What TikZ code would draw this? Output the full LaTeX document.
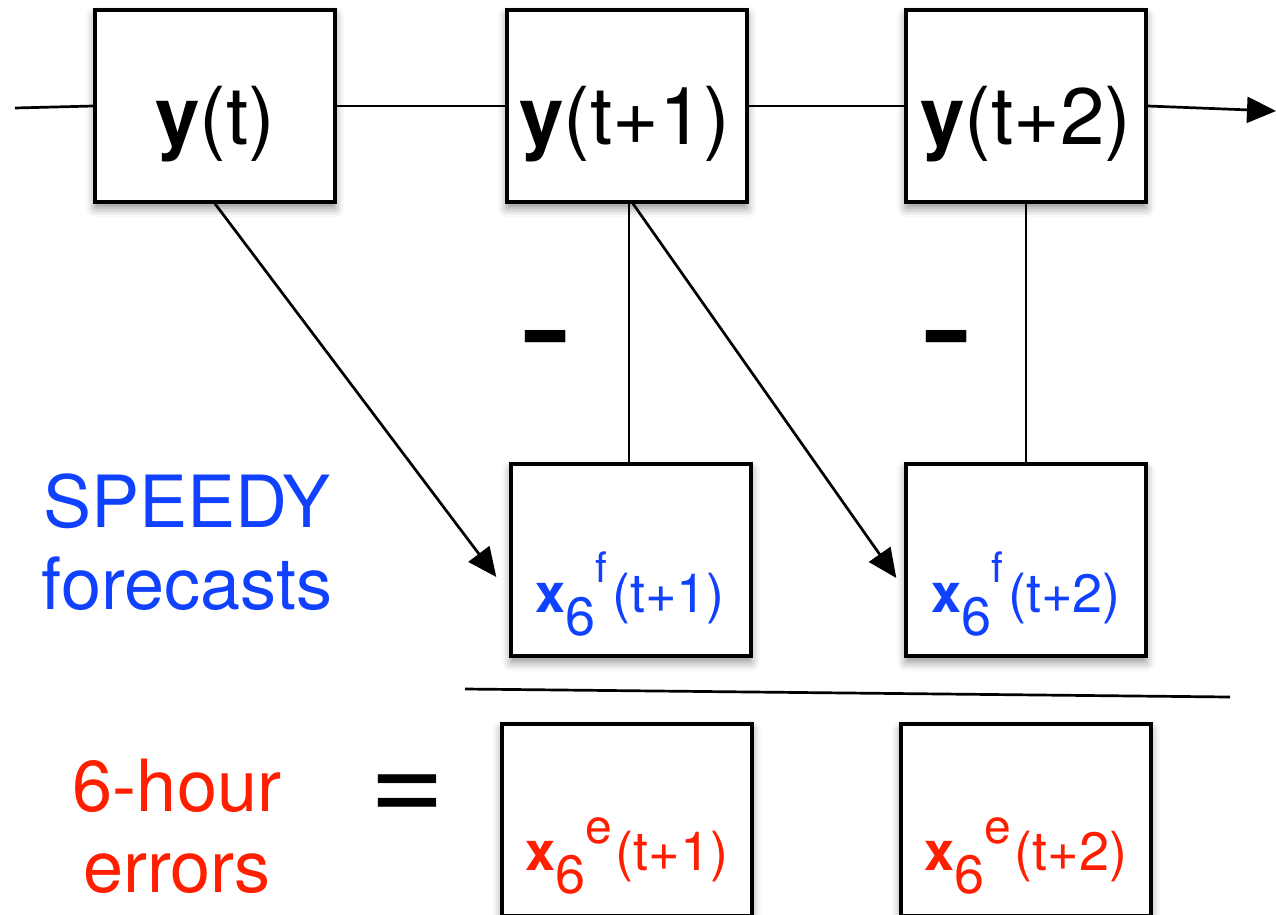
\documentclass[tikz,border=0pt]{standalone}
\usepackage{fontspec}
\setmainfont{TeX Gyre Heros}
\usetikzlibrary{arrows.meta,calc,shadows.blur}
\definecolor{fcblue}{RGB}{15,65,255}
\definecolor{errred}{RGB}{255,30,0}
\newcommand\fsz[1]{\fontsize{#1}{#1}\selectfont}
\begin{document}
\begin{tikzpicture}[x=1pt,y=-1pt,
  box/.style={draw, line width=3.4pt, fill=white, inner sep=0pt,
    minimum width=240pt, minimum height=192pt,
    blur shadow={shadow xshift=0pt, shadow yshift=-6pt,
      shadow blur radius=9pt, shadow opacity=45}},
  widebox/.style={box, minimum width=250pt},
  link/.style={line width=2.7pt},
  arr/.style={link, -{Triangle[length=29pt,width=26pt]}},
  big/.style={anchor=base, font=\fsz{80}},
  inbox/.style={anchor=base, font=\fsz{54}},
  side/.style={anchor=base, font=\fsz{72}},
]
\useasboundingbox (0,0) rectangle (1276,914);

% state boxes
\node[box] (yt)  at (215,106) {};
\node[box] (yt1) at (627,106) {};
\node[box] (yt2) at (1026,106) {};

% forecast boxes
\node[box] (f1) at (631,560) {};
\node[box] (f2) at (1026,560) {};

% error boxes
\node[widebox] (e1) at (627,820) {};
\node[widebox] (e2) at (1026,820) {};

% box labels
\node[big] (ytl)  at (215,144) {\textbf{y}(t)};
\node[big] (yt1l) at (625,144) {\textbf{y}(t+1)};
\node[big] (yt2l) at (1026,144) {\textbf{y}(t+2)};

\node[inbox, text=fcblue] (f1l) at (630,612)
  {\textbf{x}\raisebox{-23pt}{6}\raisebox{30pt}{\fsz{42}f}\kern5pt(t+1)};
\node[inbox, text=fcblue] (f2l) at (1026,612)
  {\textbf{x}\raisebox{-23pt}{6}\raisebox{30pt}{\fsz{42}f}\kern5pt(t+2)};

\node[inbox, text=errred] (e1l) at (627,870)
  {\textbf{x}\raisebox{-23pt}{6}\raisebox{27pt}{\fsz{48}e}\kern3pt(t+1)};
\node[inbox, text=errred] (e2l) at (1026,870)
  {\textbf{x}\raisebox{-23pt}{6}\raisebox{27pt}{\fsz{48}e}\kern3pt(t+2)};

% side captions
\node[side, text=fcblue] (sp) at (187,527) {SPEEDY};
\node[side, text=fcblue] (fc) at (187,609) {forecasts};
\node[side, text=errred] (hr) at (177,811) {6-hour};
\node[side, text=errred] (er) at (177,892) {errors};

% operators
\node[anchor=base, font=\fsz{170}, inner sep=0pt] (m1) at (546,383) {-};
\node[anchor=base, font=\fsz{170}, inner sep=0pt] (m2) at (947,383) {-};
\node[anchor=base, font=\fsz{130}, inner sep=0pt] (eq) at (407,823) {=};

% time chain
\coordinate (in)  at (15,108);
\coordinate (out) at (1276,111);
\draw[link] (in) -- (yt.west);
\draw[link] (yt.east) -- (yt1.west);
\draw[link] (yt1.east) -- (yt2.west);
\draw[arr] (yt2.east) -- (out);

% forecast arrows
\draw[arr] (yt.south) -- ($(f1.west)+(-13,17)$);
\draw[arr] ($(yt1.south)+(6,0)$) -- ($(f2.west)+(-8,18)$);

% subtraction links
\draw[link] ($(yt1.south)+(2,0)$) -- ($(f1.north)+(-2,0)$);
\draw[link] (yt2.south) -- (f2.north);

% result bar
\coordinate (barL) at (465,689);
\coordinate (barR) at (1230,697);
\draw[link] (barL) -- (barR);
\end{tikzpicture}
\end{document}
